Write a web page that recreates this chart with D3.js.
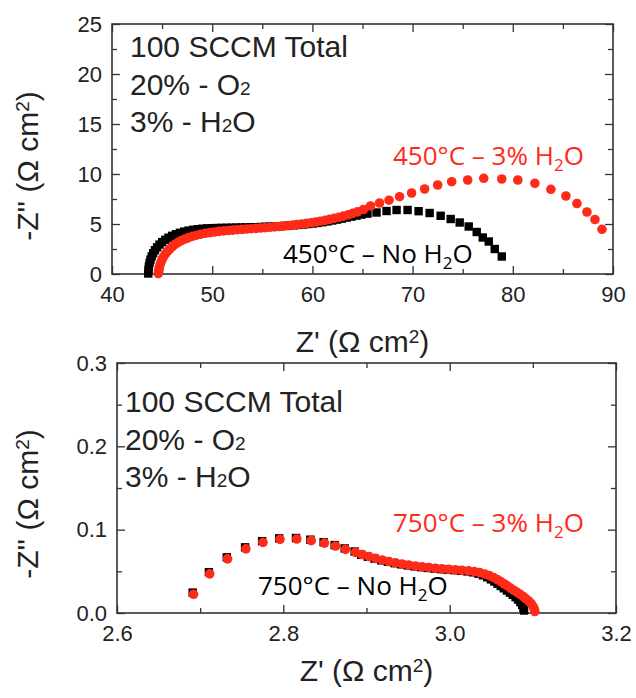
<!DOCTYPE html>
<html>
<head>
<meta charset="utf-8">
<script src="https://cdn.jsdelivr.net/npm/d3@7"></script>
<style>
  html, body { margin: 0; padding: 0; background: #fff; }
  svg { display: block; }
</style>
</head>
<body>
<svg id="chart" width="636" height="698"></svg>
<script>
// Impedance spectra (Z', -Z'') in Ω cm², 450 °C, dry air
const z450Dry = [
  [43.62,0.05],[43.64,0.4],[43.68,0.75],[43.75,1.1],[43.84,1.43],[43.96,1.76],[44.11,2.08],[44.29,2.38],
  [44.5,2.67],[44.74,2.94],[45.01,3.19],[45.31,3.42],[45.64,3.63],[46.0,3.82],[46.38,3.98],[46.78,4.12],
  [47.2,4.24],[47.64,4.34],[48.09,4.42],[48.55,4.48],[49.02,4.53],[49.5,4.56],[49.98,4.58],[50.46,4.6],
  [50.94,4.61],[51.42,4.62],[51.9,4.63],[52.38,4.64],[52.86,4.65],[53.34,4.66],[53.82,4.67],[54.3,4.68],
  [54.78,4.7],[55.26,4.72],[55.74,4.74],[56.22,4.76],[56.7,4.78],[57.18,4.81],[57.66,4.84],[58.14,4.87],
  [58.62,4.91],[59.1,4.95],[59.58,5.0],[60.06,5.05],[60.54,5.11],[61.02,5.18],[61.5,5.26],[61.98,5.35],
  [62.46,5.44],[62.94,5.54],[63.42,5.64],[63.9,5.74],[64.4,5.84],[64.9,5.94],[65.5,6.04],
  [66.4,6.15],[67.4,6.3],[68.4,6.4],[69.5,6.4],[70.6,6.28],[71.7,6.1],[72.8,5.82],[73.8,5.5],
  [74.7,5.15],[75.6,4.75],[76.4,4.2],[77.0,3.65],[77.6,3.25],[78.2,2.5],[78.9,1.75]
];
// 450 °C, 3% H2O
const z450Wet = [
  [44.62,0.05],[44.66,0.35],[44.72,0.65],[44.8,0.95],[44.9,1.22],[45.02,1.5],[45.17,1.77],[45.35,2.03],
  [45.55,2.28],[45.78,2.52],[46.03,2.75],[46.3,2.96],[46.6,3.16],[46.92,3.34],[47.27,3.5],[47.64,3.64],
  [48.03,3.77],[48.44,3.88],[48.87,3.98],[49.31,4.07],[49.76,4.14],[50.22,4.2],[50.68,4.26],[51.14,4.31],
  [51.6,4.35],[52.06,4.39],[52.52,4.43],[52.98,4.46],[53.44,4.5],[53.9,4.53],[54.36,4.56],[54.82,4.6],
  [55.28,4.63],[55.74,4.67],[56.2,4.71],[56.66,4.75],[57.12,4.79],[57.58,4.84],[58.04,4.89],[58.5,4.94],
  [58.96,5.0],[59.42,5.06],[59.88,5.13],[60.34,5.2],[60.8,5.28],[61.26,5.37],[61.72,5.46],[62.18,5.56],
  [62.64,5.67],[63.1,5.79],[63.56,5.92],[64.02,6.06],[64.5,6.21],[65.1,6.45],[65.8,6.8],
  [66.7,7.1],[67.65,7.38],[68.7,7.73],[69.9,8.1],[71.2,8.5],[72.5,8.9],[73.9,9.23],[75.5,9.4],
  [77.1,9.57],[78.9,9.5],[80.5,9.4],[82.2,9.07],[83.8,8.47],[85.3,7.8],[86.4,7.05],[87.4,6.2],
  [88.2,5.45],[88.9,4.47]
];
// 750 °C, dry air
const z750Dry = [
  [2.691,0.0245],[2.7105,0.049],[2.732,0.0668],[2.754,0.0788],[2.7745,0.0862],[2.795,0.0896],
  [2.8152,0.09],[2.8325,0.088],[2.8484,0.085],[2.8617,0.0815],[2.8737,0.0775],[2.8857,0.0738],
  [2.8937,0.0698],[2.9017,0.0674],[2.9097,0.0652],[2.9177,0.0632],[2.9257,0.0614],[2.9337,0.0598],
  [2.9417,0.0584],[2.9497,0.0571],[2.9577,0.056],[2.9657,0.055],[2.9737,0.0541],[2.9817,0.0533],
  [2.9897,0.0526],[2.9977,0.052],[3.0057,0.0514],[3.0137,0.0507],[3.0212,0.0499],[3.0282,0.0488],
  [3.0345,0.0472],[3.0401,0.0452],[3.0451,0.0429],[3.0496,0.0404],[3.0537,0.0378],[3.0576,0.0351],
  [3.0614,0.0324],[3.0651,0.0297],[3.0688,0.027],[3.0724,0.0244],[3.0759,0.0218],[3.0792,0.019],
  [3.0823,0.0161],[3.085,0.013],[3.0872,0.0097],[3.0887,0.0063],[3.0895,0.003]
];
// 750 °C, 3% H2O
const z750Wet = [
  [2.692,0.0225],[2.7115,0.047],[2.733,0.065],[2.755,0.077],[2.7755,0.0848],[2.796,0.0884],
  [2.8162,0.0888],[2.8335,0.0868],[2.8494,0.0838],[2.8627,0.0804],[2.8747,0.0764],[2.8867,0.0728],
  [2.8947,0.0702],[2.9027,0.0678],[2.9107,0.0656],[2.9187,0.0636],[2.9267,0.0618],[2.9347,0.0602],
  [2.9427,0.0588],[2.9507,0.0575],[2.9587,0.0564],[2.9667,0.0554],[2.9747,0.0545],[2.9827,0.0537],
  [2.9907,0.053],[2.9987,0.0524],[3.0067,0.0518],[3.0147,0.0512],[3.0227,0.0505],[3.0297,0.0496],
  [3.0362,0.0484],[3.0422,0.0468],[3.0477,0.0448],[3.0527,0.0426],[3.0572,0.0402],[3.0614,0.0377],
  [3.0654,0.0351],[3.0693,0.0325],[3.0732,0.0299],[3.0771,0.0273],[3.081,0.0248],[3.0848,0.0224],
  [3.0884,0.0198],[3.0918,0.017],[3.0952,0.0143],[3.098,0.0112],[3.1002,0.008],[3.1016,0.0048],
  [3.1024,0.0018]
];

// Axis ranges and ticks
const xDomain450 = [40, 90];
const yDomain450 = [0, 25];
const xTicks450 = [40, 50, 60, 70, 80, 90];
const xMinor450 = [45, 55, 65, 75, 85];
const yTicks450 = [0, 5, 10, 15, 20, 25];
const yMinor450 = [2.5, 7.5, 12.5, 17.5, 22.5];

const xDomain750 = [2.6, 3.2];
const yDomain750 = [0, 0.3];
const xTicks750 = [2.6, 2.8, 3.0, 3.2];
const xMinor750 = [2.7, 2.9, 3.1];
const yTicks750 = [0.0, 0.1, 0.2, 0.3];
const yMinor750 = [0.05, 0.15, 0.25];

// Text labels
const conditionLines = [["100 SCCM Total", ""], ["20% - O", "2"], ["3% - H", "2", "O"]];
const labels450 = { wet: "450°C – 3% H", dry: "450°C – No H" };
const labels750 = { wet: "750°C – 3% H", dry: "750°C – No H" };

const RED = "#ff2a17";
const INK = "#222";
const FRAME = "#333";
const SANS = "'Liberation Sans', Arial, Helvetica, sans-serif";
const NOTE = "'Open Sans', 'Noto Sans', sans-serif";

const svg = d3.select("#chart");

const panels = [
  {
    box: { left: 112, right: 613, top: 24, bottom: 274 },
    xDomain: xDomain450, yDomain: yDomain450,
    xTicks: xTicks450, xMinor: xMinor450, yTicks: yTicks450, yMinor: yMinor450,
    fmt: d3.format("d"),
    dry: z450Dry, wet: z450Wet,
    textX: 130, textY: [57, 95, 132],
    labels: labels450,
    wetPos: [393, 165], dryPos: [283, 263],
    yTitleY: 166, xTitleY: 352
  },
  {
    box: { left: 117, right: 616, top: 363, bottom: 613 },
    xDomain: xDomain750, yDomain: yDomain750,
    xTicks: xTicks750, xMinor: xMinor750, yTicks: yTicks750, yMinor: yMinor750,
    fmt: d3.format(".1f"),
    dry: z750Dry, wet: z750Wet,
    textX: 125, textY: [412, 450, 487],
    labels: labels750,
    wetPos: [393, 532], dryPos: [258, 595],
    yTitleY: 504, xTitleY: 681
  }
];

panels.forEach(p => {
  const b = p.box;
  const x = d3.scaleLinear().domain(p.xDomain).range([b.left, b.right]);
  const y = d3.scaleLinear().domain(p.yDomain).range([b.bottom, b.top]);
  const g = svg.append("g");

  // Ticks on all four sides, pointing inward
  const axisSpecs = [
    { gen: d3.axisBottom, scale: x, t: `translate(0,${b.bottom})`, major: p.xTicks, minor: p.xMinor, labels: true },
    { gen: d3.axisTop, scale: x, t: `translate(0,${b.top})`, major: p.xTicks, minor: p.xMinor, labels: false },
    { gen: d3.axisLeft, scale: y, t: `translate(${b.left},0)`, major: p.yTicks, minor: p.yMinor, labels: true },
    { gen: d3.axisRight, scale: y, t: `translate(${b.right},0)`, major: p.yTicks, minor: p.yMinor, labels: false }
  ];
  axisSpecs.forEach(s => {
    const isX = s.gen === d3.axisBottom || s.gen === d3.axisTop;
    const major = g.append("g").attr("transform", s.t)
      .call(s.gen(s.scale).tickValues(s.major).tickSize(-8)
        .tickPadding(isX ? 12 : 10)
        .tickFormat(s.labels ? p.fmt : () => ""));
    const minor = g.append("g").attr("transform", s.t)
      .call(s.gen(s.scale).tickValues(s.minor).tickSize(-5).tickFormat(() => ""));
    [major, minor].forEach(a => {
      a.select(".domain").remove();
      a.selectAll(".tick line").attr("stroke", FRAME).attr("stroke-width", 1.3);
      a.selectAll(".tick text").attr("fill", INK).style("font-family", SANS).style("font-size", "22px");
    });
  });

  // Plot frame
  g.append("rect")
    .attr("x", b.left).attr("y", b.top)
    .attr("width", b.right - b.left).attr("height", b.bottom - b.top)
    .attr("fill", "none").attr("stroke", FRAME).attr("stroke-width", 1.6);

  // Condition notes
  const notes = g.append("g").attr("fill", INK).style("font-family", SANS);
  conditionLines.forEach((parts, i) => {
    const t = notes.append("text").attr("x", p.textX).attr("y", p.textY[i]).style("font-size", "30px");
    t.append("tspan").text(parts[0]);
    if (parts[1]) t.append("tspan").style("font-size", "19px").text(parts[1]);
    if (parts[2]) t.append("tspan").text(parts[2]);
  });

  // Data: dry (black squares) underneath, wet (red circles) on top
  const sq = 8.4;
  g.append("g").selectAll("rect").data(p.dry).join("rect")
    .attr("x", d => x(d[0]) - sq / 2).attr("y", d => y(d[1]) - sq / 2)
    .attr("width", sq).attr("height", sq).attr("fill", "#000");
  g.append("g").selectAll("circle").data(p.wet).join("circle")
    .attr("cx", d => x(d[0])).attr("cy", d => y(d[1])).attr("r", 4.8).attr("fill", RED);

  // Series labels
  const seriesLabel = (pos, txt, color) => {
    const t = g.append("text").attr("x", pos[0]).attr("y", pos[1])
      .attr("fill", color).style("font-family", NOTE).style("font-size", "26px");
    t.append("tspan").text(txt);
    t.append("tspan").attr("dy", 6).style("font-size", "17px").text("2");
    t.append("tspan").attr("dy", -6).text("O");
  };
  seriesLabel(p.wetPos, p.labels.wet, RED);
  seriesLabel(p.dryPos, p.labels.dry, "#000");

  // Axis titles
  const cx = (b.left + b.right) / 2;
  const xt = g.append("text").attr("x", cx).attr("y", p.xTitleY).attr("text-anchor", "middle")
    .attr("fill", INK).style("font-family", SANS).style("font-size", "30px");
  xt.append("tspan").text("Z' (Ω cm");
  xt.append("tspan").attr("dy", -9).style("font-size", "19px").text("2");
  xt.append("tspan").attr("dy", 9).text(")");

  const yt = g.append("text").attr("transform", `translate(38,${p.yTitleY}) rotate(-90)`)
    .attr("text-anchor", "middle").attr("fill", INK)
    .style("font-family", SANS).style("font-size", "30px");
  yt.append("tspan").text("-Z'' (Ω cm");
  yt.append("tspan").attr("dy", -9).style("font-size", "19px").text("2");
  yt.append("tspan").attr("dy", 9).text(")");
});
</script>
</body>
</html>
